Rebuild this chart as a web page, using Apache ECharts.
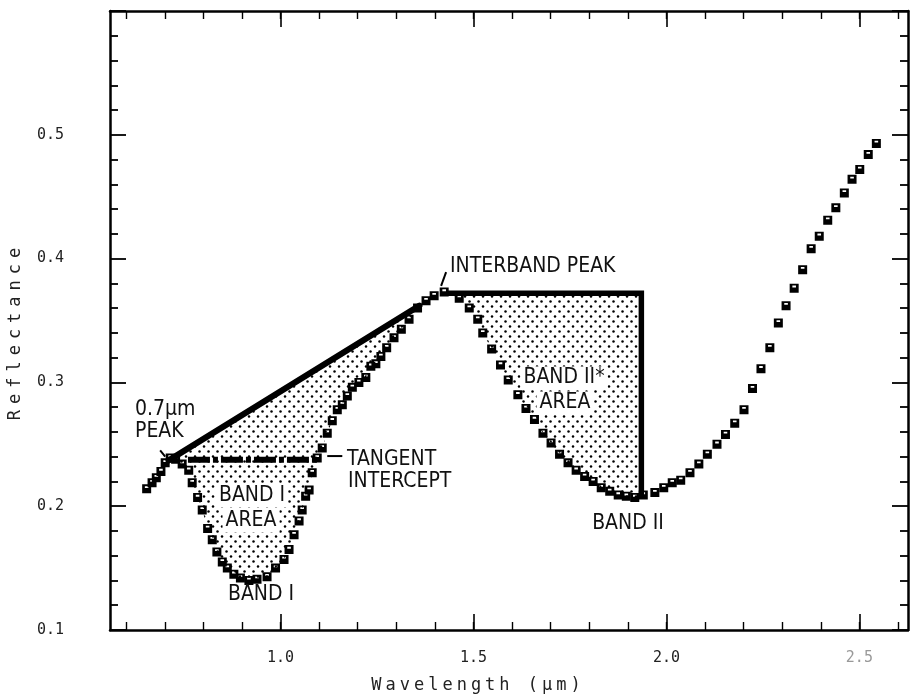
<!DOCTYPE html>
<html>
<head>
<meta charset="utf-8">
<script src="https://cdn.jsdelivr.net/npm/echarts@6/dist/echarts.min.js"></script>
<style>html,body{margin:0;padding:0;background:#fff}#c{width:911px;height:696px}</style>
</head>
<body>
<div id="c"></div>
<script>
// ---- data ----
const wavelength = [0.653,0.667,0.678,0.690,0.701,0.714,0.728,0.745,0.762,0.771,0.785,0.797,0.811,0.823,0.835,0.849,0.862,0.879,0.896,0.918,0.939,0.965,0.987,1.009,1.022,1.035,1.048,1.056,1.065,1.074,1.082,1.095,1.108,1.121,1.134,1.147,1.160,1.173,1.186,1.203,1.221,1.234,1.247,1.260,1.275,1.294,1.313,1.333,1.355,1.377,1.398,1.424,1.463,1.489,1.511,1.524,1.547,1.570,1.590,1.615,1.636,1.658,1.680,1.701,1.723,1.745,1.766,1.788,1.810,1.831,1.853,1.875,1.896,1.918,1.940,1.970,1.993,2.015,2.037,2.061,2.084,2.106,2.131,2.153,2.177,2.201,2.223,2.245,2.268,2.290,2.310,2.331,2.353,2.375,2.396,2.418,2.439,2.461,2.481,2.501,2.523,2.544];
const reflectance = [0.214,0.219,0.223,0.228,0.235,0.239,0.238,0.234,0.229,0.219,0.207,0.197,0.182,0.173,0.163,0.155,0.150,0.145,0.142,0.140,0.141,0.143,0.150,0.157,0.165,0.177,0.188,0.197,0.208,0.213,0.227,0.239,0.247,0.259,0.269,0.278,0.282,0.289,0.296,0.300,0.304,0.313,0.315,0.321,0.328,0.336,0.343,0.351,0.360,0.366,0.370,0.373,0.368,0.360,0.351,0.340,0.327,0.314,0.302,0.290,0.279,0.270,0.259,0.251,0.242,0.235,0.229,0.224,0.220,0.215,0.212,0.209,0.208,0.207,0.209,0.211,0.215,0.219,0.221,0.227,0.234,0.242,0.250,0.258,0.267,0.278,0.295,0.311,0.328,0.348,0.362,0.376,0.391,0.408,0.418,0.431,0.441,0.453,0.464,0.472,0.484,0.493];

// Band I continuum (0.7 um peak -> tangent point)
const continuumIX = [0.710, 1.360];
const continuumIY = [0.237, 0.362];
// Band II* continuum (interband peak, horizontal then vertical drop to band II)
const continuumIIX = [1.430, 1.935, 1.935];
const continuumIIY = [0.372, 0.372, 0.207];
// Tangent intercept (dash-dot)
const interceptX = [0.760, 1.102];
const interceptY = [0.2375, 0.2375];
// pointer strokes for labels
const tangentPtrX = [1.121, 1.160];
const tangentPtrY = [0.2405, 0.2405];
const peakPtrX = [0.688, 0.701];
const peakPtrY = [0.245, 0.240];
const interPtrX = [1.416, 1.429];
const interPtrY = [0.378, 0.389];

const xMajorTicks = [1.0, 1.5, 2.0, 2.5];
const xMinorTicks = [0.6,0.7,0.8,0.9,1.0,1.1,1.2,1.3,1.4,1.5,1.6,1.7,1.8,1.9,2.0,2.1,2.2,2.3,2.4,2.5,2.6];
const X_MIN = 0.558, X_MAX = 2.626, Y_MIN = 0.1, Y_MAX = 0.6;

// ---- letter spacing for the plotter-style axis titles ----
(function () {
  const P = CanvasRenderingContext2D.prototype;
  const orig = P.fillText;
  P.fillText = function (t, x, y, m) {
    const f = this.font || '';
    const mm = f.match(/spaced(\d+)/);
    if ('letterSpacing' in this) this.letterSpacing = mm ? mm[1] + 'px' : '0px';
    return m === undefined ? orig.call(this, t, x, y) : orig.call(this, t, x, y, m);
  };
})();

// ---- helpers ----
const pts = (xs, ys) => xs.map((x, i) => [x, ys[i]]);
const spectrum = pts(wavelength, reflectance);

const pat = document.createElement('canvas');
pat.width = 9; pat.height = 10;
(function(){const g = pat.getContext('2d'); g.fillStyle = '#000';
  g.beginPath(); g.arc(1.5,1.5,1.25,0,Math.PI*2); g.fill();
  g.beginPath(); g.arc(6,6.5,1.25,0,Math.PI*2); g.fill();})();
const stipple = {image: pat, repeat: 'repeat'};

const MONO = "'DejaVu Sans Mono', 'Liberation Mono', monospace";
const NARROW = "'Liberation Sans Narrow', 'DejaVu Sans Condensed', 'Roboto Condensed', sans-serif";

function bandPolygon(topX, topY, lo, hi) {
  return function (params, api) {
    const p = [];
    for (let i = 0; i < topX.length; i++) p.push(api.coord([topX[i], topY[i]]));
    for (let i = spectrum.length - 1; i >= 0; i--) {
      if (wavelength[i] >= lo && wavelength[i] <= hi) p.push(api.coord(spectrum[i]));
    }
    return {type: 'polygon', shape: {points: p}, style: {fill: stipple, stroke: null}};
  };
}

const xBase = {type: 'value', min: X_MIN, max: X_MAX, splitLine: {show: false}, gridIndex: 0};
const chart = echarts.init(document.getElementById('c'), null, {renderer: 'canvas'});
const txt = (text, x, y, align, bg) => ({type: 'text', x: x, y: y, z: 10,
  style: Object.assign({text: text, font: '21px ' + NARROW, fill: '#111', textAlign: align, textVerticalAlign: 'middle'},
    bg ? {backgroundColor: '#fff', padding: [1, 3]} : {})});
chart.setOption({
  animation: false,
  backgroundColor: '#fff',
  grid: {left: 110, right: 3, top: 11, bottom: 66},
  xAxis: [
    Object.assign({}, xBase, {position: 'bottom',
      axisLine: {show: true, lineStyle: {color: '#000', width: 2.5}},
      axisTick: {show: true, inside: true, length: 16, customValues: xMajorTicks, lineStyle: {color: '#000', width: 1.6}},
      axisLabel: {show: true, customValues: xMajorTicks, formatter: v => v.toFixed(1), margin: 21,
        color: v => (v > 2.4 ? '#999' : '#222'), fontFamily: MONO, fontSize: 15}}),
    Object.assign({}, xBase, {position: 'bottom',
      axisLine: {show: false},
      axisTick: {show: true, inside: true, length: 8, customValues: xMinorTicks, lineStyle: {color: '#000', width: 1.4}},
      axisLabel: {show: false}}),
    Object.assign({}, xBase, {position: 'top',
      axisLine: {show: true, lineStyle: {color: '#000', width: 2.5}},
      axisTick: {show: true, inside: true, length: 16, customValues: xMajorTicks, lineStyle: {color: '#000', width: 1.6}},
      axisLabel: {show: false}}),
    Object.assign({}, xBase, {position: 'top',
      axisLine: {show: false},
      axisTick: {show: true, inside: true, length: 8, customValues: xMinorTicks, lineStyle: {color: '#000', width: 1.4}},
      axisLabel: {show: false}})
  ],
  yAxis: [
    {type: 'value', min: Y_MIN, max: Y_MAX, interval: 0.1, position: 'left',
      axisLine: {show: true, lineStyle: {color: '#000', width: 2.5}},
      axisTick: {show: true, inside: true, length: 16, lineStyle: {color: '#000', width: 1.8}},
      minorTick: {show: true, splitNumber: 5, length: 8, lineStyle: {color: '#000', width: 1.8}},
      axisLabel: {show: true, margin: 46, color: '#222', fontFamily: MONO, fontSize: 15,
        formatter: v => (Math.abs(v - 0.6) < 1e-6 ? '' : v.toFixed(1))},
      splitLine: {show: false}, minorSplitLine: {show: false}},
    {type: 'value', min: Y_MIN, max: Y_MAX, interval: 0.1, position: 'right',
      axisLine: {show: true, lineStyle: {color: '#000', width: 2.5}},
      axisTick: {show: true, inside: true, length: 16, lineStyle: {color: '#000', width: 1.8}},
      minorTick: {show: true, splitNumber: 5, length: 8, lineStyle: {color: '#000', width: 1.8}},
      axisLabel: {show: false}, splitLine: {show: false}, minorSplitLine: {show: false}}
  ],
  series: [
    {type: 'custom', name: 'Band I area', z: 1, data: [spectrum[0]],
      renderItem: bandPolygon(continuumIX, continuumIY, 0.715, 1.359), silent: true},
    {type: 'custom', name: 'Band II area', z: 1, data: [spectrum[0]],
      renderItem: bandPolygon(continuumIIX, continuumIIY, 1.43, 1.934), silent: true},
    {type: 'scatter', name: 'spectrum', z: 3, data: spectrum,
      symbol: 'path://M0,0L10,0L10,10L0,10Z M3,2L3,4L7,4L7,2Z', symbolSize: 9,
      itemStyle: {color: '#000', opacity: 1}},
    {type: 'line', name: 'continuum I', z: 4, data: pts(continuumIX, continuumIY), symbol: 'none',
      lineStyle: {color: '#000', width: 6, cap: 'round'}},
    {type: 'line', name: 'continuum II', z: 4, data: pts(continuumIIX, continuumIIY), symbol: 'none',
      lineStyle: {color: '#000', width: 5.5, join: 'miter'}},
    {type: 'line', name: 'tangent intercept', z: 4, data: pts(interceptX, interceptY), symbol: 'none',
      lineStyle: {color: '#000', width: 6, type: [22, 3, 5, 3]}},
    {type: 'line', z: 4, data: pts(tangentPtrX, tangentPtrY), symbol: 'none', lineStyle: {color: '#000', width: 2}},
    {type: 'line', z: 4, data: pts(peakPtrX, peakPtrY), symbol: 'none', lineStyle: {color: '#000', width: 2}},
    {type: 'line', z: 4, data: pts(interPtrX, interPtrY), symbol: 'none', lineStyle: {color: '#000', width: 2}}
  ],
  graphic: [
    {type: 'text', x: 16, y: 331, rotation: Math.PI / 2, z: 10,
      style: {text: 'Reflectance', font: "17px 'DejaVu Sans Mono', spaced6, monospace", fill: '#222', textAlign: 'center', textVerticalAlign: 'middle'}},
    {type: 'text', x: 478, y: 686, z: 10,
      style: {text: 'Wavelength (\u00b5m)', font: "17px 'DejaVu Sans Mono', spaced4, monospace", fill: '#222', textAlign: 'center', textVerticalAlign: 'middle'}},
    txt('0.7\u00b5m', 135, 410, 'left'),
    txt('PEAK', 135, 432, 'left'),
    txt('TANGENT', 347, 460, 'left'),
    txt('INTERCEPT', 348, 482, 'left'),
    txt('BAND I', 252, 496, 'center', true),
    txt('AREA', 251, 521, 'center', true),
    txt('BAND I', 261, 595, 'center'),
    txt('INTERBAND PEAK', 450, 267, 'left'),
    txt('BAND II*', 564, 378, 'center', true),
    txt('AREA', 565, 403, 'center', true),
    txt('BAND II', 628, 524, 'center')
  ]
});
</script>
</body>
</html>
